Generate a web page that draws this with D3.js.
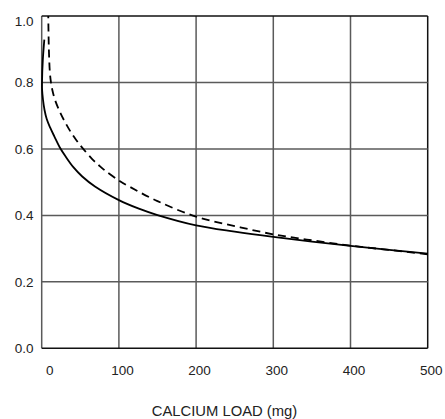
<!DOCTYPE html>
<html>
<head>
<meta charset="utf-8">
<script src="https://cdn.jsdelivr.net/npm/d3@7"></script>
<style>
  html, body { margin: 0; padding: 0; background: #fff; }
  svg { display: block; }
  text { font-family: "Liberation Sans", Arial, sans-serif; fill: #222; }
</style>
</head>
<body>
<svg id="chart" width="445" height="419"></svg>
<script>
// ---- data ----
const xTicks = [0, 100, 200, 300, 400, 500];
const yTicks = [0.0, 0.2, 0.4, 0.6, 0.8, 1.0];
const xLabel = "CALCIUM LOAD (mg)";

// solid curve: [calcium load (mg), value]
const solidX = [3.4, 1.5, 0.4, 0.5, 1.7, 3.6, 6.5, 11, 16.5, 23.3, 31, 41, 52.5, 69, 100, 125, 150, 200, 250, 300, 350, 400, 450, 500];
const solidY = [0.929, 0.87, 0.80, 0.778, 0.748, 0.718, 0.690, 0.664, 0.637, 0.605, 0.577, 0.545, 0.517, 0.487, 0.446, 0.421, 0.401, 0.370, 0.351, 0.335, 0.321, 0.308, 0.296, 0.285];

// dashed curve
const dashX = [8.5, 9.3, 10.6, 12, 13.7, 17.2, 22.7, 29, 37.6, 44.7, 53.8, 66, 74, 82, 100, 114, 150, 200, 250, 300, 350, 400, 450, 500];
const dashY = [1.0, 0.90, 0.83, 0.80, 0.778, 0.748, 0.716, 0.686, 0.651, 0.627, 0.600, 0.568, 0.551, 0.535, 0.505, 0.486, 0.443, 0.396, 0.368, 0.343, 0.325, 0.309, 0.296, 0.283];

// ---- layout ----
const svg = d3.select("#chart");
const L = 41.7, R = 427.7, T = 16, B = 348.3;
const x = d3.scaleLinear().domain([0, 500]).range([L, R]);
const y = d3.scaleLinear().domain([0, 1]).range([B, T]);

// grid lines
const g = svg.append("g");
g.selectAll("line.vx").data(xTicks).enter().append("line")
  .attr("x1", d => x(d)).attr("x2", d => x(d))
  .attr("y1", T).attr("y2", B)
  .attr("stroke", d => d === 500 ? "#111" : "#5a5a5a")
  .attr("stroke-width", 1.5);
g.selectAll("line.hy").data(yTicks).enter().append("line")
  .attr("x1", L).attr("x2", R)
  .attr("y1", d => y(d)).attr("y2", d => y(d))
  .attr("stroke", d => (d === 0 || d === 1) ? "#111" : "#5a5a5a")
  .attr("stroke-width", 1.5);

// y tick labels
svg.append("g").selectAll("text").data(yTicks).enter().append("text")
  .attr("x", 33.5)
  .attr("y", d => Math.max(y(d), 21))
  .attr("dy", "0.35em")
  .attr("text-anchor", "end")
  .attr("font-size", 13.5)
  .text(d => d3.format(".1f")(d));

// x tick labels
svg.append("g").selectAll("text").data(xTicks).enter().append("text")
  .attr("x", d => x(d) + (d === 0 ? 8 : 3.5))
  .attr("y", 375)
  .attr("text-anchor", "middle")
  .attr("font-size", 13.5)
  .text(d => d);

// axis title
svg.append("text")
  .attr("x", 224.5).attr("y", 416)
  .attr("text-anchor", "middle")
  .attr("font-size", 14.8)
  .text(xLabel);

// curves
const line = d3.line()
  .x(d => x(d[0])).y(d => y(d[1]))
  .curve(d3.curveCatmullRom.alpha(0.5));

const solid = solidX.map((v, i) => [v, solidY[i]]).sort((a, b) => a[1] - b[1]);
const dashed = dashX.map((v, i) => [v, dashY[i]]).sort((a, b) => a[1] - b[1]);

svg.append("path").datum(dashed)
  .attr("d", line)
  .attr("fill", "none")
  .attr("stroke", "#000")
  .attr("stroke-width", 1.8)
  .attr("stroke-dasharray", "8,5");

svg.append("path").datum(solid)
  .attr("d", line)
  .attr("fill", "none")
  .attr("stroke", "#000")
  .attr("stroke-width", 1.8);
</script>
</body>
</html>
